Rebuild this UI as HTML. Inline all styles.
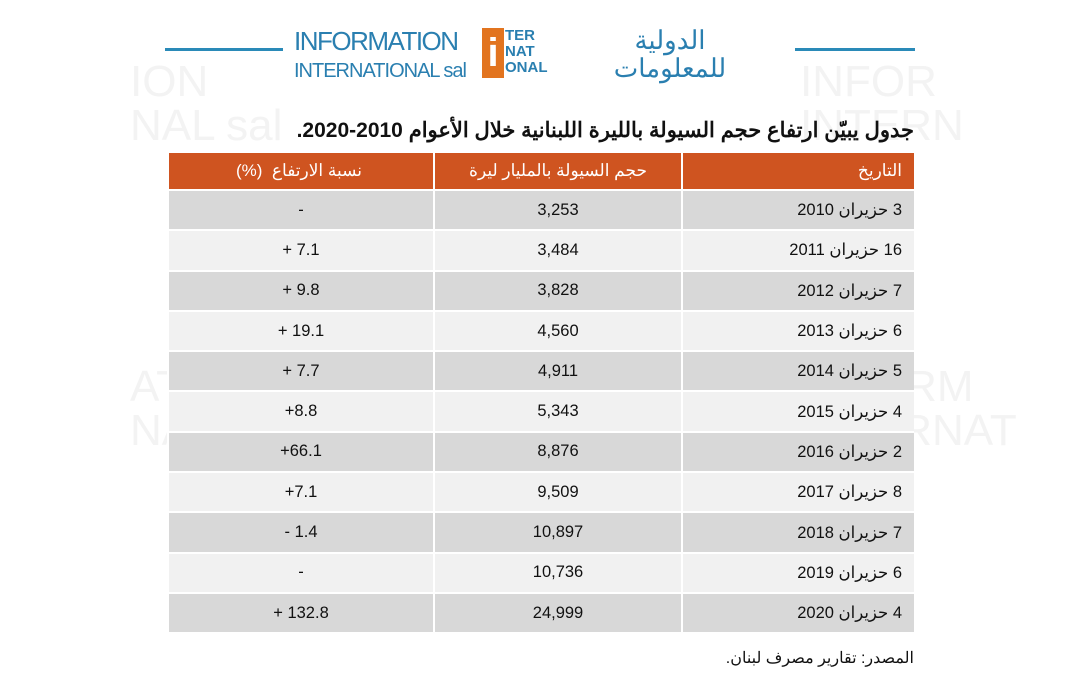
<!DOCTYPE html>
<html><head><meta charset="utf-8"><style>
body{margin:0;width:1080px;height:675px;background:#fff;position:relative;overflow:hidden;font-family:"Liberation Sans","Noto Sans CJK SC",sans-serif}
.a{position:absolute}
.line{position:absolute;height:3px;background:#2a8ab8;top:48px}
.wm{position:absolute;color:#f3f3f3;font-size:44px;line-height:44px}
table{position:absolute;left:167px;top:153px;width:747px;border-collapse:separate;border-spacing:0 0}
td{height:38.3px;padding:0 10px;font-size:16.5px;color:#111;border-bottom:2px solid #fff;border-left:2px solid #fff}
tr.h td{background:#cf5420;color:#fff;height:36px;font-size:17px}
tr.g td{background:#d8d8d8}
tr.w td{background:#f1f1f1}
td.c1{width:244px;text-align:center}
td.c2{width:226px;text-align:center}
td.c3{text-align:right;direction:rtl}
</style></head><body>
<div class="wm" style="left:130px;top:60px">ION<br>NAL sal</div>
<div class="wm" style="left:800px;top:60px">INFOR<br>INTERN</div>
<div class="wm" style="left:130px;top:365px">ATION<br>NAL sal</div>
<div class="wm" style="left:800px;top:365px">INFORM<br>INTERNAT</div>
<div class="line" style="left:165px;width:118px"></div>
<div class="line" style="left:795px;width:120px"></div>
<div class="a" style="left:294px;top:28px;color:#2a7fb0;font-size:26px;line-height:27px;letter-spacing:-1.5px">INFORMATION<br><span style="font-size:20px;letter-spacing:-1px">INTERNATIONAL sal</span></div>
<div class="a" style="left:482px;top:28px;width:22px;height:50px;background:#e2741f;color:#fff;font-weight:bold;font-size:40px;line-height:50px;text-align:center">i</div>
<div class="a" style="left:505px;top:28px;color:#2a7fb0;font-weight:bold;font-size:15px;line-height:16px">TER<br>NAT<br>ONAL</div>
<div class="a" style="left:565px;top:26px;color:#2a7fb0;font-size:26px;line-height:28px;direction:rtl;width:210px;text-align:center">الدولية<br>للمعلومات</div>
<div class="a" style="left:170px;top:118px;width:744px;text-align:right;direction:rtl;font-size:21px;font-weight:bold;color:#111">جدول يبيّن ارتفاع حجم السيولة بالليرة اللبنانية خلال الأعوام 2010-2020.</div>
<table>
<tr class="h"><td class="c1" dir="rtl">نسبة الارتفاع&nbsp; (%)</td><td class="c2">حجم السيولة بالمليار ليرة</td><td class="c3">التاريخ</td></tr>
<tr class="g"><td class="c1">-</td><td class="c2">3,253</td><td class="c3">3 حزيران 2010</td></tr>
<tr class="w"><td class="c1">+ 7.1</td><td class="c2">3,484</td><td class="c3">16 حزيران 2011</td></tr>
<tr class="g"><td class="c1">+ 9.8</td><td class="c2">3,828</td><td class="c3">7 حزيران 2012</td></tr>
<tr class="w"><td class="c1">+ 19.1</td><td class="c2">4,560</td><td class="c3">6 حزيران 2013</td></tr>
<tr class="g"><td class="c1">+ 7.7</td><td class="c2">4,911</td><td class="c3">5 حزيران 2014</td></tr>
<tr class="w"><td class="c1">+8.8</td><td class="c2">5,343</td><td class="c3">4 حزيران 2015</td></tr>
<tr class="g"><td class="c1">+66.1</td><td class="c2">8,876</td><td class="c3">2 حزيران 2016</td></tr>
<tr class="w"><td class="c1">+7.1</td><td class="c2">9,509</td><td class="c3">8 حزيران 2017</td></tr>
<tr class="g"><td class="c1">- 1.4</td><td class="c2">10,897</td><td class="c3">7 حزيران 2018</td></tr>
<tr class="w"><td class="c1">-</td><td class="c2">10,736</td><td class="c3">6 حزيران 2019</td></tr>
<tr class="g"><td class="c1">+ 132.8</td><td class="c2">24,999</td><td class="c3">4 حزيران 2020</td></tr>
</table>
<div class="a" style="left:600px;top:648px;width:314px;text-align:right;direction:rtl;font-size:16px;color:#111">المصدر: تقارير مصرف لبنان.</div>
</body></html>
